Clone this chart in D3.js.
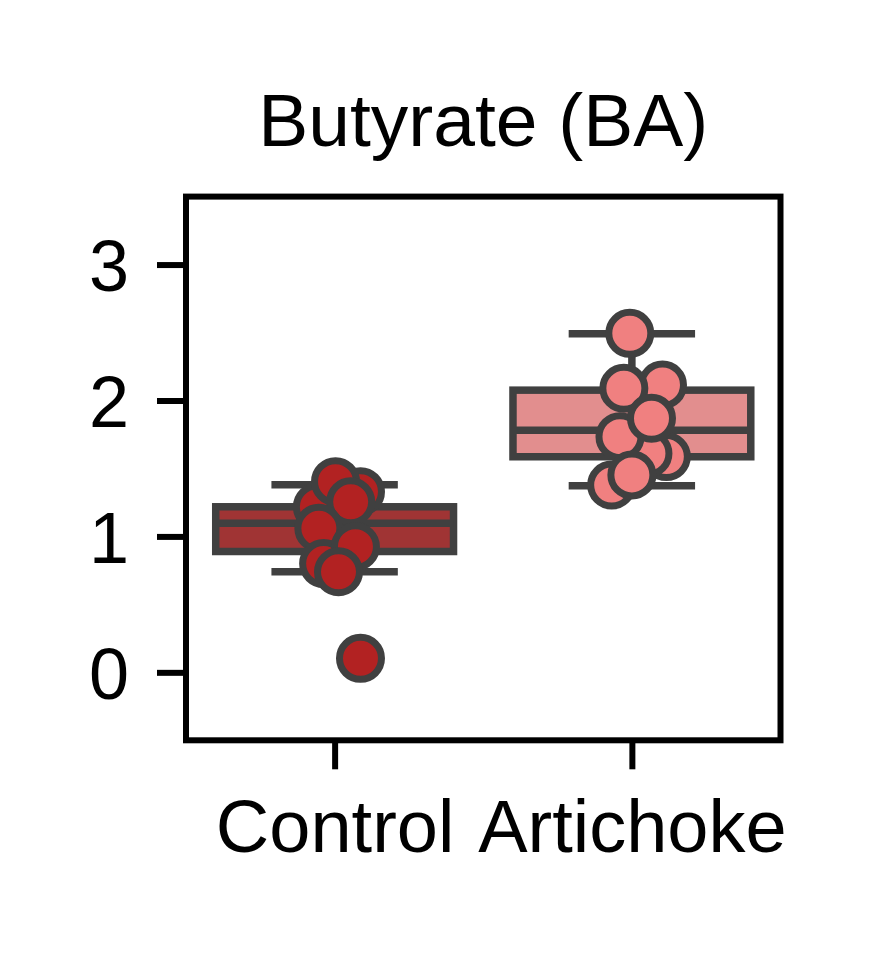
<!DOCTYPE html>
<html>
<head>
<meta charset="utf-8">
<script src="https://cdn.jsdelivr.net/npm/d3@7"></script>
<style>
  html, body { margin: 0; padding: 0; background: #ffffff; }
  text { font-family: "Liberation Sans", Arial, sans-serif; fill: #000; }
</style>
</head>
<body>
<svg id="chart" width="870" height="960"></svg>
<script>
// ---- data ----
const title = "Butyrate (BA)";
const categories = ["Control", "Artichoke"];
const yTicks = [0, 1, 2, 3];
const yDomain = [-0.5, 3.5];

// box statistics per category: [whiskerLow, Q1, median, Q3, whiskerHigh]
const controlBox = [0.740, 0.889, 1.096, 1.218, 1.380];
const artichokeBox = [1.372, 1.586, 1.781, 2.076, 2.491];

// individual observations (drawing order) and their horizontal jitter in category units
const controlValues = [1.218, 1.329, 1.403, 1.255, 1.060, 0.800, 0.924, 0.740, 0.103];
const controlJitter = [-0.058, 0.087, 0.003, 0.054, -0.053, -0.037, 0.070, 0.013, 0.087];
const artichokeValues = [1.587, 1.610, 2.114, 2.090, 1.734, 1.869, 1.378, 1.452, 2.494];
const artichokeJitter = [0.116, 0.054, 0.103, -0.027, -0.040, 0.066, -0.068, 0.000, -0.007];

const boxFills = ["#a03434", "#e28e8e"];
const pointFills = ["#b22222", "#f08080"];
const edge = "#404040";

// ---- layout ----
const svg = d3.select("#chart");
const mLeft = 186, mRight = 780.5, mTop = 196.6, mBottom = 740.3;

const x = d3.scaleLinear().domain([-0.5, categories.length - 0.5]).range([mLeft, mRight]);
const y = d3.scaleLinear().domain(yDomain).range([mBottom, mTop]);
const step = x(1) - x(0);

svg.append("rect").attr("width", 870).attr("height", 960).attr("fill", "#fff");

const boxes = [controlBox, artichokeBox];
const values = [controlValues, artichokeValues];
const jitters = [controlJitter, artichokeJitter];

const plot = svg.append("g");

boxes.forEach((b, i) => {
  const cx = x(i);
  const bw = 0.8 * step;
  const capw = 0.4 * step;
  const g = plot.append("g");
  // whiskers
  g.append("line").attr("x1", cx).attr("x2", cx).attr("y1", y(b[3])).attr("y2", y(b[4]))
    .attr("stroke", edge).attr("stroke-width", 7.5);
  g.append("line").attr("x1", cx).attr("x2", cx).attr("y1", y(b[1])).attr("y2", y(b[0]))
    .attr("stroke", edge).attr("stroke-width", 7.5);
  // caps
  [b[0], b[4]].forEach(v => {
    g.append("line").attr("x1", cx - capw / 2).attr("x2", cx + capw / 2)
      .attr("y1", y(v)).attr("y2", y(v))
      .attr("stroke", edge).attr("stroke-width", 7.5).attr("stroke-linecap", "square");
  });
  // box
  g.append("rect").attr("x", cx - bw / 2).attr("width", bw)
    .attr("y", y(b[3])).attr("height", y(b[1]) - y(b[3]))
    .attr("fill", boxFills[i]).attr("stroke", edge).attr("stroke-width", 7.5);
  // median
  g.append("line").attr("x1", cx - bw / 2).attr("x2", cx + bw / 2)
    .attr("y1", y(b[2])).attr("y2", y(b[2]))
    .attr("stroke", edge).attr("stroke-width", 7.5);
});

values.forEach((vals, i) => {
  plot.append("g").selectAll("circle").data(vals).join("circle")
    .attr("cx", (d, k) => x(i + jitters[i][k]))
    .attr("cy", d => y(d))
    .attr("r", 21)
    .attr("fill", pointFills[i])
    .attr("stroke", edge)
    .attr("stroke-width", 7);
});

// frame
svg.append("rect").attr("x", mLeft).attr("y", mTop).attr("width", mRight - mLeft).attr("height", mBottom - mTop)
  .attr("fill", "none").attr("stroke", "#000").attr("stroke-width", 6);

// y axis
const yAxis = d3.axisLeft(y).tickValues(yTicks).tickFormat(d3.format("d")).tickSize(29).tickPadding(28);
const gy = svg.append("g").attr("transform", `translate(${mLeft},0)`).call(yAxis);
gy.select(".domain").remove();
gy.selectAll(".tick line").attr("stroke", "#000").attr("stroke-width", 6);
gy.selectAll(".tick text").attr("font-size", 72).attr("font-family", "Liberation Sans, Arial, sans-serif")
  .attr("fill", "#000").attr("dy", "0.36em");

// x axis
const xAxis = d3.axisBottom(x).tickValues(categories.map((c, i) => i)).tickFormat(i => categories[i])
  .tickSize(29).tickPadding(30);
const gx = svg.append("g").attr("transform", `translate(0,${mBottom})`).call(xAxis);
gx.select(".domain").remove();
gx.selectAll(".tick line").attr("stroke", "#000").attr("stroke-width", 6);
gx.selectAll(".tick text").attr("font-size", 74).attr("font-family", "Liberation Sans, Arial, sans-serif")
  .attr("fill", "#000").attr("dy", "0.71em");

// title
svg.append("text").attr("x", (mLeft + mRight) / 2).attr("y", 146)
  .attr("text-anchor", "middle").attr("font-size", 75).text(title);
</script>
</body>
</html>
